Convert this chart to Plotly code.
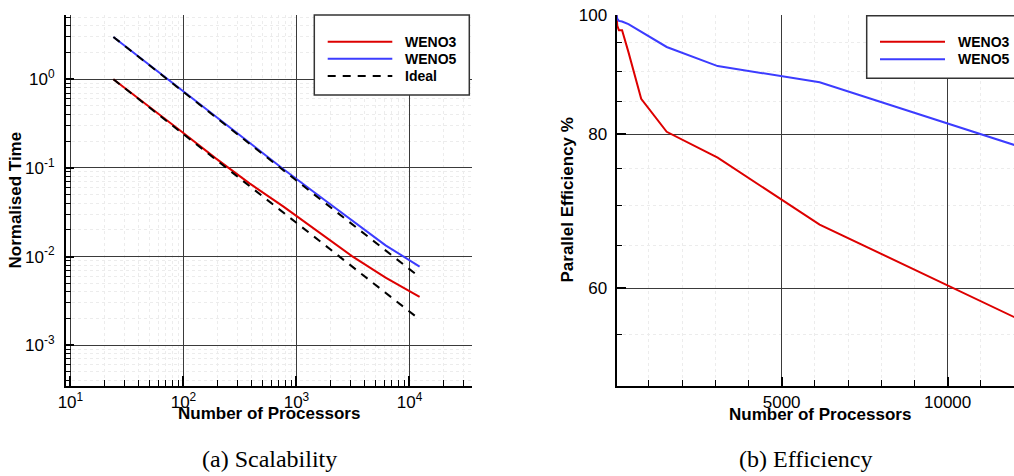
import plotly.graph_objects as go

W, H = 1014, 476
SANS = "Liberation Sans, Arial, sans-serif"
SERIF = "Liberation Serif, Times New Roman, serif"

# ---------------- data ----------------
processors = [24, 48, 96, 192, 384, 768, 1536, 3072, 6144, 12288]

# (a) Scalability: normalised time
time_weno3 = [1.0, 0.510, 0.257, 0.129, 0.0670, 0.0366, 0.0194, 0.0102, 0.00578, 0.00350]
time_weno5 = [3.0, 1.511, 0.758, 0.380, 0.1907, 0.0967, 0.0498, 0.0258, 0.0134, 0.0077]
time_ideal3 = [1.0, 0.5, 0.25, 0.125, 0.0625, 0.03125, 0.015625, 0.0078125, 0.00390625, 0.001953]
time_ideal5 = [3.0, 1.5, 0.75, 0.375, 0.1875, 0.09375, 0.046875, 0.0234375, 0.01171875, 0.005859]

# (b) Efficiency: parallel efficiency %
eff_weno3 = [100, 98.0, 97.2, 97.2, 93.3, 85.5, 80.4, 76.6, 67.6, 56.4]
eff_weno5 = [100, 99.3, 98.9, 98.8, 98.3, 96.9, 94.2, 90.9, 88.2, 78.0]

# tick labels
left_x_tickvals = [10, 100, 1000, 10000]
left_x_ticktext = ["10<sup>1</sup>", "10<sup>2</sup>", "10<sup>3</sup>", "10<sup>4</sup>"]
left_y_tickvals = [1, 0.1, 0.01, 0.001]
left_y_ticktext = ["10<sup>0</sup>", "10<sup>-1</sup>", "10<sup>-2</sup>", "10<sup>-3</sup>"]
right_x_tickvals = [5000, 10000]
right_x_ticktext = ["5000", "10000"]
right_y_tickvals = [60, 80, 100]
right_y_ticktext = ["60", "80", "100"]

RED = "#dd0000"
BLUE = "#3c3cff"

# ---------------- helpers ----------------
def px(x):
    return x / W

def py(y):
    return 1 - y / H

ydom = [py(386), py(15)]

def log_minors(lo_exp, hi_exp):
    return [m * 10 ** e for e in range(lo_exp, hi_exp + 1) for m in range(2, 10)]

def base_axis():
    return dict(
        showline=True, linecolor="black", linewidth=2, mirror=False,
        ticks="inside", tickcolor="black", tickwidth=1.5,
        showgrid=True, gridcolor="#3a3a3a", gridwidth=1,
        zeroline=False,
        tickfont=dict(family=SANS, size=17, color="black"),
    )

def minor_cfg(vals, ln=6):
    return dict(tickmode="array", tickvals=vals, ticks="inside", ticklen=ln,
                tickcolor="black", tickwidth=1, showgrid=True,
                gridcolor="#ececec", griddash="dot", gridwidth=1)

fig = go.Figure()

# left panel traces
fig.add_trace(go.Scatter(x=processors, y=time_weno3, mode="lines", name="WENO3",
                         line=dict(color=RED, width=2), xaxis="x", yaxis="y"))
fig.add_trace(go.Scatter(x=processors, y=time_weno5, mode="lines", name="WENO5",
                         line=dict(color=BLUE, width=2), xaxis="x", yaxis="y"))
fig.add_trace(go.Scatter(x=processors, y=time_ideal3, mode="lines", name="Ideal",
                         line=dict(color="black", width=2, dash="8px,7px"), xaxis="x", yaxis="y"))
fig.add_trace(go.Scatter(x=processors, y=time_ideal5, mode="lines", name="Ideal",
                         line=dict(color="black", width=2, dash="8px,7px"), xaxis="x", yaxis="y"))
# right panel traces
fig.add_trace(go.Scatter(x=processors, y=eff_weno3, mode="lines", name="WENO3",
                         line=dict(color=RED, width=2), xaxis="x2", yaxis="y2"))
fig.add_trace(go.Scatter(x=processors, y=eff_weno5, mode="lines", name="WENO5",
                         line=dict(color=BLUE, width=2), xaxis="x2", yaxis="y2"))

xa = base_axis()
xa.update(type="log", range=[0.961, 4.553], domain=[px(66), px(472)], anchor="y",
          tickmode="array", tickvals=left_x_tickvals, ticktext=left_x_ticktext, ticklen=10,
          minor=minor_cfg(log_minors(1, 4)))
ya = base_axis()
ya.update(type="log", range=[-3.46, 0.725], domain=ydom, anchor="x",
          tickmode="array", tickvals=left_y_tickvals, ticktext=left_y_ticktext, ticklen=8,
          ticklabelstandoff=6, minor=minor_cfg(log_minors(-4, 0), 5))
xa2 = base_axis()
xa2.update(type="linear", range=[24, 12000], domain=[px(616.5), 1.0], anchor="y2",
           tickmode="array", tickvals=right_x_tickvals, ticktext=right_x_ticktext, ticklen=9,
           minor=minor_cfg([k * 1000 for k in range(1, 13) if k not in (5, 10)]))
ya2 = base_axis()
ya2.update(type="log", range=[1.69897, 2.0], domain=ydom, anchor="x2",
           tickmode="array", tickvals=right_y_tickvals, ticktext=right_y_ticktext, ticklen=9,
           ticklabelstandoff=4, minor=minor_cfg([55, 65, 70, 75, 85, 90, 95], 5))

shapes = []
annotations = []

def legend(box, rows, text_x, line_x0, line_x1):
    x0, y0, x1, y1 = box
    shapes.append(dict(type="rect", xref="paper", yref="paper",
                       x0=px(x0), x1=px(x1), y0=py(y0), y1=py(y1),
                       line=dict(color="#333333", width=1.5), fillcolor="white", layer="above"))
    for label, color, dash, yy in rows:
        shapes.append(dict(type="line", xref="paper", yref="paper",
                           x0=px(line_x0), x1=px(line_x1), y0=py(yy), y1=py(yy),
                           line=dict(color=color, width=2, dash=dash), layer="above"))
        annotations.append(dict(text=f"<b>{label}</b>", xref="paper", yref="paper",
                                x=px(text_x), y=py(yy), xanchor="left", yanchor="middle",
                                showarrow=False, font=dict(family=SANS, size=14, color="black")))

legend((314.3, 15, 469.3, 95),
       [("WENO3", RED, "solid", 41.7), ("WENO5", BLUE, "solid", 58.7),
        ("Ideal", "black", "8px,7px", 76)],
       403, 327.7, 392.3)
legend((866.7, 15.7, 1080, 78.3),
       [("WENO3", RED, "solid", 41.7), ("WENO5", BLUE, "solid", 59.3)],
       956, 880, 945)

def label(text, x, y, size=17, bold=True, angle=0, family=SANS):
    annotations.append(dict(text=f"<b>{text}</b>" if bold else text, xref="paper", yref="paper",
                            x=px(x), y=py(y), xanchor="center", yanchor="middle",
                            showarrow=False, textangle=angle,
                            font=dict(family=family, size=size, color="black")))

label("Number of Processors", 268.5, 413)
label("Number of Processors", 820, 414)
label("Normalised Time", 15, 200.5, angle=-90)
label("Parallel Efficiency %", 567, 200.5, angle=-90)
label("(a) Scalability", 269, 459, size=24, bold=False, family=SERIF)
label("(b) Efficiency", 806, 459, size=24, bold=False, family=SERIF)

fig.update_layout(
    width=W, height=H,
    margin=dict(l=0, r=0, t=0, b=0, autoexpand=False),
    paper_bgcolor="white", plot_bgcolor="white",
    showlegend=False,
    xaxis=xa, yaxis=ya, xaxis2=xa2, yaxis2=ya2,
    shapes=shapes, annotations=annotations,
)

fig.write_html(
    "out.html",
    config={"displayModeBar": False},
    post_script="document.body.style.margin='0px';document.body.style.overflow='hidden';",
)
